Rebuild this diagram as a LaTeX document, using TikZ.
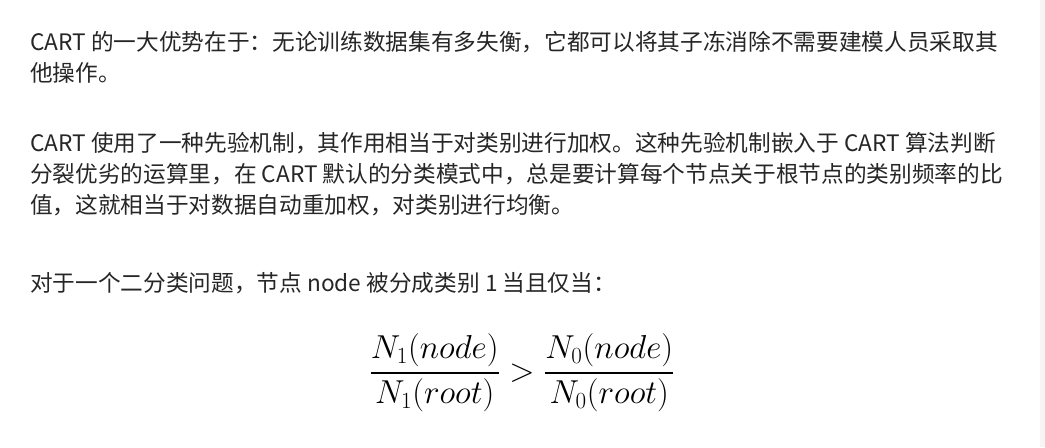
\documentclass[tikz,border=0pt]{standalone}
\usepackage{amsmath}
\usepackage{fontspec}
\setmainfont{Noto Sans CJK SC}
\begin{document}
\begin{tikzpicture}[x=0.75pt,y=-0.75pt,
  line/.style={anchor=base west,inner sep=0pt,text=black!85,font=\fontsize{17pt}{20pt}\selectfont}]
\useasboundingbox (0,0) rectangle (1045,447);
\fill[white] (0,0) rectangle (1045,447);
\fill[black!4] (1040,0) rectangle (1045,447);
\node[line] (l1) at (30,50) {CART 的一大优势在于：无论训练数据集有多失衡，它都可以将其子冻消除不需要建模人员采取其};
\node[line] (l2) at (30,81) {他操作。};
\node[line] (l3) at (30,151) {CART 使用了一种先验机制，其作用相当于对类别进行加权。这种先验机制嵌入于 CART 算法判断};
\node[line] (l4) at (30,182) {分裂优劣的运算里，在 CART 默认的分类模式中，总是要计算每个节点关于根节点的类别频率的比};
\node[line] (l5) at (30,213) {值，这就相当于对数据自动重加权，对类别进行均衡。};
\node[line] (l6) at (30,291) {对于一个二分类问题，节点 node 被分成类别 1 当且仅当：};
\node[inner sep=0pt,font=\fontsize{25.5pt}{30pt}\selectfont] (f) at (522,373)
  {$\displaystyle \frac{N_1(node)}{N_1(root)} > \frac{N_0(node)}{N_0(root)}$};
\end{tikzpicture}
\end{document}
